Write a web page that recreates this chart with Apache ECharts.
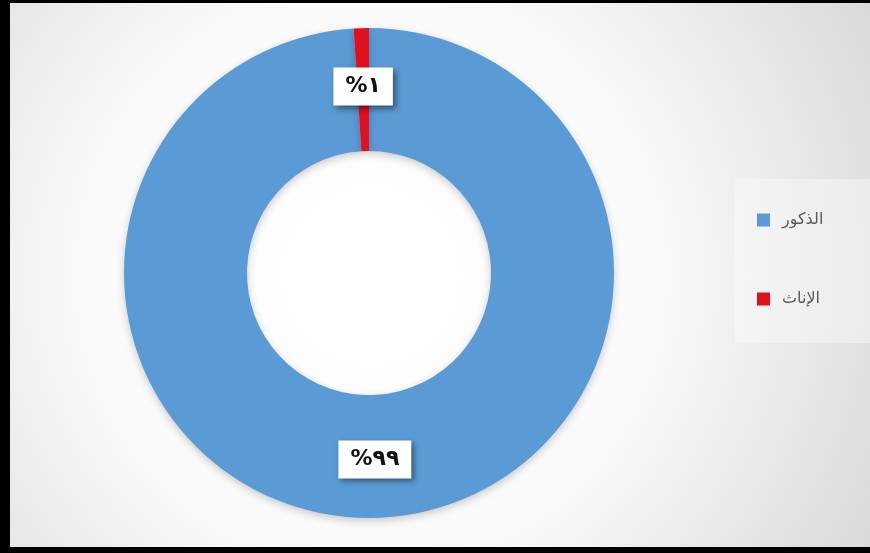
<!DOCTYPE html>
<html>
<head>
<meta charset="utf-8">
<script src="https://cdn.jsdelivr.net/npm/echarts@6/dist/echarts.min.js"></script>
<style>
  html, body { margin: 0; padding: 0; background: #000; }
  #main { position: absolute; left: 10px; top: 3px; width: 860px; height: 544px; }
</style>
</head>
<body>
<div id="main"></div>
<script>
// categories and values (percent)
var categories = ['الذكور', 'الإناث'];
var values = [99, 1];
var colors = ['#5b9bd5', '#e0101e'];

// western -> arabic-indic digits for the labels
function toArabicDigits(n) {
  var d = '٠١٢٣٤٥٦٧٨٩';
  return String(n).replace(/[0-9]/g, function (c) { return d[+c]; });
}

var myChart = echarts.init(document.getElementById('main'));

var option = {
  backgroundColor: {
    type: 'radial', x: 0.42, y: 0.5, r: 1.05,
    colorStops: [
      { offset: 0, color: '#ffffff' },
      { offset: 0.5, color: '#fafafa' },
      { offset: 1, color: '#d9d9d9' }
    ]
  },
  color: colors,
  graphic: [{
    type: 'rect',
    shape: { x: 725, y: 176, width: 135, height: 164 },
    style: { fill: 'rgba(255,255,255,0.35)' },
    silent: true
  }],
  legend: {
    orient: 'vertical',
    left: 742,
    top: 204,
    itemWidth: 13,
    itemHeight: 13,
    itemGap: 63,
    icon: 'rect',
    textStyle: { color: '#595959', fontSize: 16, fontFamily: 'DejaVu Sans', padding: [0, 0, 0, 7] },
    data: categories
  },
  series: [{
    type: 'pie',
    center: [359, 270],
    radius: [122, 245],
    startAngle: 90,
    clockwise: true,
    avoidLabelOverlap: false,
    silent: true,
    itemStyle: {
      shadowBlur: 8,
      shadowColor: 'rgba(0,0,0,0.2)',
      shadowOffsetY: 3
    },
    label: {
      show: true,
      position: 'inside',
      formatter: function (p) { return '%' + toArabicDigits(p.value); },
      color: '#111',
      fontSize: 22,
      fontWeight: 'bold',
      fontFamily: 'DejaVu Sans',
      backgroundColor: '#ffffff',
      padding: [8, 12, 8, 12],
      shadowBlur: 6,
      shadowColor: 'rgba(0,0,0,0.45)',
      shadowOffsetX: 3,
      shadowOffsetY: 3
    },
    labelLine: { show: false },
    data: categories.map(function (c, i) {
      return { name: c, value: values[i] };
    })
  }]
};

myChart.setOption(option);
</script>
</body>
</html>
